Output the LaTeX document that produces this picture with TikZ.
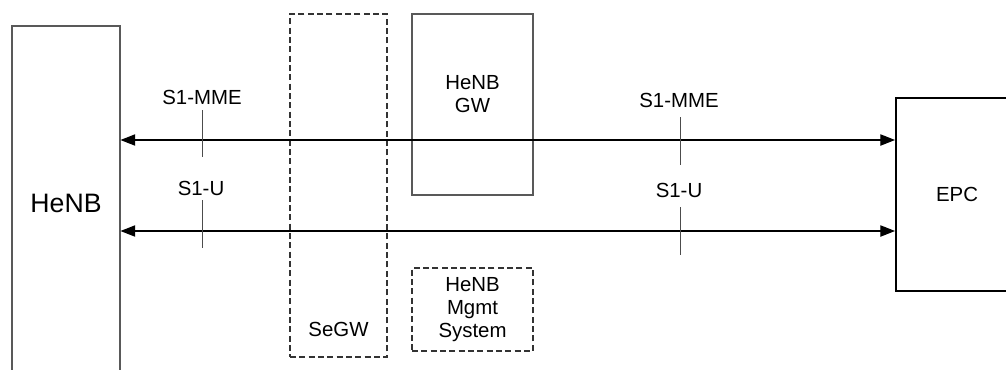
\documentclass[tikz,border=0pt]{standalone}
\usepackage{fontspec}
\setmainfont{Liberation Sans}
\usetikzlibrary{arrows.meta}
\begin{document}
\begin{tikzpicture}[x=0.75pt,y=-0.75pt,
  box/.style={draw=black!65, line width=0.8pt, rectangle, inner sep=0pt, align=center,
    font=\fontsize{15.3}{17.25}\selectfont},
  dbox/.style={box, draw=black!80, dash pattern=on 4.5pt off 2.5pt},
  txt/.style={inner sep=0pt, align=center, font=\fontsize{15.3}{17.25}\selectfont},
  arr/.style={draw=black, line width=0.8pt, {Triangle[length=11pt,width=8.5pt]}-{Triangle[length=11pt,width=8.5pt]}},
  tick/.style={draw=black!70, line width=0.7pt}]
\useasboundingbox (0,0) rectangle (1006,369);
\clip (0,0) rectangle (1006,369);
% boxes
\node[box, minimum width=81pt, minimum height=265.5pt, font=\fontsize{20}{24}\selectfont] (henb) at (66,203) {HeNB};
\node[dbox, minimum width=72.75pt, minimum height=257.25pt] (segw) at (338.5,185.5) {};
\node[txt] (segwl) at (338.5,329) {SeGW};
\node[box, minimum width=90.75pt, minimum height=135.75pt] (gw) at (472.5,104.5) {};
\node[txt] (gwl) at (472.5,94) {HeNB\\GW};
\node[dbox, minimum width=90.75pt, minimum height=62.25pt] (mgmt) at (472.5,309.5) {HeNB\\Mgmt\\System};
\node[box, draw=black, line width=1.5pt, minimum width=91.5pt, minimum height=144.75pt] (epc) at (957,194.5) {EPC};
% reference coordinates for the interfaces
\coordinate (ymme) at (0,140);
\coordinate (yu) at (0,231);
% connectors
\draw[arr] (henb.east |- ymme) -- (epc.west |- ymme);
\draw[arr] (henb.east |- yu) -- (epc.west |- yu);
% interface ticks and labels
\coordinate (t1a) at (202,110); \coordinate (t1b) at (202,157);
\coordinate (t2a) at (202,200); \coordinate (t2b) at (202,248);
\coordinate (t3a) at (680,117); \coordinate (t3b) at (680,165);
\coordinate (t4a) at (680,207); \coordinate (t4b) at (680,255);
\draw[tick] (t1a) -- (t1b);
\draw[tick] (t2a) -- (t2b);
\draw[tick] (t3a) -- (t3b);
\draw[tick] (t4a) -- (t4b);
\node[txt] (l1) at (202,97) {S1-MME};
\node[txt] (l2) at (201,188) {S1-U};
\node[txt] (l3) at (679,100) {S1-MME};
\node[txt] (l4) at (679,190) {S1-U};
\end{tikzpicture}
\end{document}
